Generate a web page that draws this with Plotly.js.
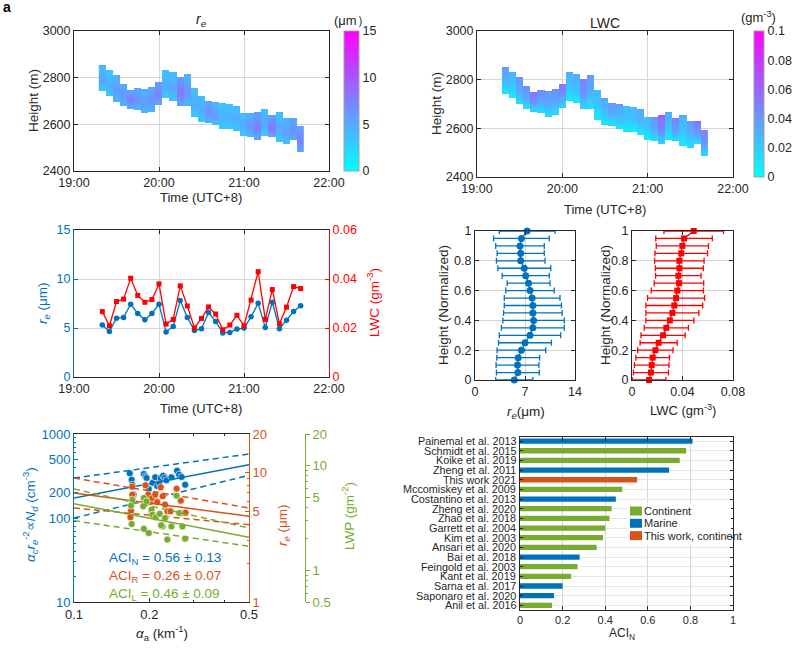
<!DOCTYPE html>
<html>
<head>
<meta charset="utf-8">
<script src="https://cdn.plot.ly/plotly-3.0.1.min.js"></script>
<style>
  body { margin: 0; background: #fff; }
  #plot { width: 799px; height: 655px; }
</style>
</head>
<body>
<div id="plot"></div>
<script>
// ---- data ----

// sampling times of the flight (UTC+8)
let sampleTimes = ['19:20','19:25','19:30','19:35','19:40','19:45','19:50','19:55',
  '20:00','20:05','20:10','20:15','20:20','20:25','20:30','20:35','20:40','20:45','20:50','20:55',
  '21:00','21:05','21:10','21:15','21:20','21:25','21:30','21:35','21:40'];

// cloud top / cloud base of each column (m)
let cloudTop  = [2850,2830,2810,2772,2749,2758,2752,2763,2782,2832,2821,2804,2818,2757,2721,
  2704,2695,2692,2689,2678,2649,2649,2651,2668,2642,2652,2629,2626,2592];
let cloudBase = [2744,2721,2699,2678,2668,2665,2646,2652,2685,2711,2704,2678,2678,2632,2615,
  2610,2596,2582,2582,2575,2555,2546,2535,2553,2546,2526,2520,2535,2482];

// column mean re (um) and LWC (g m-3)
let rePoint  = [5.3,4.65,6.0,6.07,7.43,6.48,5.84,6.48,7.43,4.6,5.16,7.8,6.07,4.75,4.92,6.58,
  5.67,4.5,4.55,4.89,4.99,6.14,7.53,5.06,7.63,4.92,5.8,6.68,7.26];
let lwcPoint = [0.0267,0.0209,0.0308,0.0318,0.0403,0.0333,0.0305,0.0316,0.038,0.0216,0.0235,
  0.0372,0.029,0.02,0.0239,0.0286,0.0257,0.0193,0.0212,0.0252,0.0209,0.0314,0.043,0.0235,
  0.0357,0.0217,0.0285,0.0369,0.0361];

// vertical profiles vs normalized height
let normHeight = [0,0.05,0.1,0.15,0.2,0.25,0.3,0.35,0.4,0.45,0.5,0.55,0.6,0.65,0.7,0.75,0.8,0.85,0.9,0.95,1];
let reProfile  = [5.5,6.0,5.95,6.05,6.5,7.0,7.7,8.1,8.2,8.1,8.1,8.0,7.7,7.5,7.1,6.9,6.4,6.4,6.3,6.5,7.3];
let reErr      = [2.6,3.0,3.0,3.0,3.4,3.7,4.3,4.4,4.3,4.1,4.0,3.9,3.4,3.0,3.3,3.7,3.4,3.3,3.4,3.9,3.9];
let lwcProfile = [0.0135,0.015,0.0156,0.0164,0.0185,0.0211,0.0246,0.0272,0.030,0.032,0.0335,
  0.0349,0.0359,0.0372,0.0367,0.0375,0.0375,0.039,0.0399,0.0412,0.0489];
let lwcErr     = [0.0133,0.0139,0.0137,0.0133,0.014,0.0147,0.0175,0.0175,0.019,0.021,0.0225,
  0.0226,0.0207,0.0196,0.018,0.019,0.0196,0.0208,0.0207,0.0224,0.0236];

// ACI scatter: aerosol extinction (km-1) against Nd, re and LWP
let alphaN = [0.167,0.170,0.171,0.173,0.190,0.193,0.195,0.199,0.206,0.211,0.215,0.219,0.222,
  0.227,0.231,0.234,0.245,0.258,0.263,0.269,0.278];
let ndVal  = [340,286,249,190,334,313,300,221,263,305,240,261,299,319,299,281,305,366,328,308,249];
let alphaR = [0.171,0.193,0.171,0.198,0.202,0.205,0.211,0.215,0.222,0.226,0.236,0.243,0.257,
  0.267,0.269,0.279,0.169,0.168,0.204,0.231];
let reVal  = [7.82,8.01,6.78,6.78,5.95,6.39,6.78,5.95,7.73,6.58,5.04,5.04,7.55,6.09,4.89,4.92,
  5.10,4.53,4.80,5.68];
let alphaL = [0.171,0.169,0.170,0.189,0.190,0.195,0.190,0.199,0.204,0.206,0.212,0.220,0.226,
  0.223,0.231,0.236,0.245,0.257,0.263,0.271,0.278];
let lwpVal = [4.73,4.15,2.77,4.09,4.91,4.56,2.50,2.27,3.80,3.40,3.21,3.47,2.63,2.70,3.17,1.97,
  2.63,5.16,3.53,2.63,2.01];

// fitted lines and confidence bounds at the ends of the x range
let fitX   = [0.1, 0.5];
let ndFit  = [173, 431], ndUp  = [299, 578], ndLow  = [100, 322];
let reFit  = [6.98, 4.61], reUp = [9.12, 5.35], reLow = [5.35, 3.97];
let lwpFit = [4.33, 2.07], lwpUp = [5.98, 2.54], lwpLow = [2.98, 1.70];

// ACI_N from the literature
let studies = ['Painemal et al. 2013','Schmidt et al. 2015','Koike et al. 2019','Zheng et al. 2011',
  'This work 2021','Mccomiskey et al. 2009','Costantino et al. 2013','Zheng et al. 2020',
  'Zhao et al. 2018','Garrett et al. 2004','Kim et al. 2003','Ansari et al. 2020','Bai et al. 2018',
  'Feingold et al. 2003','Kant et al. 2019','Sarna et al. 2017','Saponaro et al. 2020','Anil et al. 2016'];
let aciN = [0.81,0.78,0.75,0.70,0.55,0.48,0.45,0.43,0.42,0.40,0.39,0.36,0.28,0.27,0.24,0.20,0.16,0.15];
let regionType = ['Marine','Continent','Continent','Marine','This work, continent','Continent','Marine',
  'Continent','Continent','Continent','Continent','Continent','Marine','Continent','Continent',
  'Marine','Marine','Continent'];
let regionNames = ['Continent', 'Marine', 'This work, continent'];

// ---- helpers ----
const W = 799, H = 655;
const fx = p => p / W;
const fy = p => 1 - p / H;

const blue = '#0072BD', orange = '#D95319', green = '#77AC30', red = '#FF0000';
const axisGray = '#262626', gridGray = '#d6d6d6';
const font = 'Liberation Sans, Arial, Helvetica, sans-serif';

function baseAxis(extra) {
  return Object.assign({
    showline: true, linecolor: axisGray, linewidth: 1, mirror: 'ticks',
    ticks: 'inside', ticklen: 4, tickcolor: axisGray,
    showgrid: true, gridcolor: gridGray, zeroline: false, fixedrange: true,
    tickfont: {size: 12.5, color: axisGray}
  }, extra);
}

const timeStamps = sampleTimes.map(t => '2021-01-01 ' + t);
const timeAxis = {type: 'date', range: ['2021-01-01 19:00', '2021-01-01 22:00'],
  tickformat: '%H:%M', dtick: 3600000, tick0: '2021-01-01 19:00'};

// height bins for the curtain plots
let binHeights = [];
for (let h = 2480; h <= 2855; h += 5) binHeights.push(h);

function profileAt(prof, hn) {
  let i = Math.min(Math.floor(hn / 0.05), prof.length - 2);
  let t = (hn - normHeight[i]) / 0.05;
  return prof[i] * (1 - t) + prof[i + 1] * t;
}
const mean = a => a.reduce((s, v) => s + v, 0) / a.length;

// each column: mean profile shape scaled by that column's value
function cloudField(prof, colVals, norm) {
  return binHeights.map(h => cloudTop.map((top, c) => {
    let base = cloudBase[c];
    if (h < base || h > top) return null;
    return profileAt(prof, (h - base) / (top - base)) * colVals[c] / norm;
  }));
}

const coolScale = [[0, '#00FFFF'], [1, '#FF00FF']];

function colorbar(x, yTop, yBot, thick, vals) {
  return {x: fx(x), xanchor: 'left', xpad: 0, ypad: 0,
    y: fy((yTop + yBot) / 2), yanchor: 'middle', len: yBot - yTop, lenmode: 'pixels',
    thickness: thick, outlinewidth: 1, outlinecolor: '#a0a0a0', ticks: '',
    tickvals: vals, tickfont: {size: 12.5, color: axisGray}};
}

// ---- traces ----
let traces = [];

// a: re curtain
traces.push({type: 'heatmap', x: timeStamps, y: binHeights,
  z: cloudField(reProfile, rePoint, Math.max(...reProfile)),
  xaxis: 'x', yaxis: 'y', zmin: 0, zmax: 15, colorscale: coolScale, hoverongaps: false,
  colorbar: colorbar(344, 31, 171, 15, [0, 5, 10, 15])});

// b: LWC curtain
traces.push({type: 'heatmap', x: timeStamps, y: binHeights,
  z: cloudField(lwcProfile, lwcPoint, mean(lwcProfile)),
  xaxis: 'x2', yaxis: 'y2', zmin: 0, zmax: 0.1, colorscale: coolScale, hoverongaps: false,
  colorbar: colorbar(754, 31, 177, 10, [0, 0.02, 0.04, 0.06, 0.08, 0.1])});

// c: time series
traces.push({type: 'scatter', mode: 'lines+markers', x: timeStamps, y: rePoint,
  xaxis: 'x3', yaxis: 'y3', showlegend: false,
  line: {color: blue, width: 1.3}, marker: {color: blue, size: 5.5, symbol: 'circle'}});
traces.push({type: 'scatter', mode: 'lines+markers', x: timeStamps, y: lwcPoint,
  xaxis: 'x3', yaxis: 'y4', showlegend: false,
  line: {color: red, width: 1.3}, marker: {color: red, size: 5, symbol: 'square'}});

// d: profiles
traces.push({type: 'scatter', mode: 'lines+markers', x: reProfile, y: normHeight,
  xaxis: 'x4', yaxis: 'y5', showlegend: false, cliponaxis: false,
  line: {color: blue, width: 1.3}, marker: {color: blue, size: 7},
  error_x: {type: 'data', array: reErr, color: blue, thickness: 1.3, width: 3}});
traces.push({type: 'scatter', mode: 'lines+markers', x: lwcProfile, y: normHeight,
  xaxis: 'x5', yaxis: 'y6', showlegend: false, cliponaxis: false,
  line: {color: red, width: 1.3}, marker: {color: red, size: 6, symbol: 'square'},
  error_x: {type: 'data', array: lwcErr, color: red, thickness: 1.3, width: 3}});

// e: ACI scatter and fits
function fitLines(yAx, color, fit, up, low) {
  return [
    {type: 'scatter', mode: 'lines', x: fitX, y: up, xaxis: 'x6', yaxis: yAx, showlegend: false,
      line: {color: color, width: 1.5, dash: '6px,4px'}},
    {type: 'scatter', mode: 'lines', x: fitX, y: low, xaxis: 'x6', yaxis: yAx, showlegend: false,
      line: {color: color, width: 1.5, dash: '6px,4px'}},
    {type: 'scatter', mode: 'lines', x: fitX, y: fit, xaxis: 'x6', yaxis: yAx, showlegend: false,
      line: {color: color, width: 1.5}}
  ];
}
function dots(x, y, yAx, color) {
  return {type: 'scatter', mode: 'markers', x: x, y: y, xaxis: 'x6', yaxis: yAx, showlegend: false,
    marker: {color: color, size: 7, line: {color: 'white', width: 0.6}}};
}
traces.push(dots(alphaN, ndVal, 'y7', blue));
traces.push(dots(alphaR, reVal, 'y8', orange));
traces.push(dots(alphaL, lwpVal, 'y9', green));
traces.push(...fitLines('y7', blue, ndFit, ndUp, ndLow));
traces.push(...fitLines('y8', orange, reFit, reUp, reLow));
traces.push(...fitLines('y9', green, lwpFit, lwpUp, lwpLow));

// f: literature bars, one trace per region type
const regionColors = {'Continent': green, 'Marine': blue, 'This work, continent': orange};
regionNames.forEach(r => {
  let idx = studies.map((s, i) => i).filter(i => regionType[i] == r);
  traces.push({type: 'bar', orientation: 'h', name: r, showlegend: false,
    x: idx.map(i => aciN[i]), y: idx.map(i => studies[i]),
    xaxis: 'x7', yaxis: 'y10', width: 0.55, marker: {color: regionColors[r]}});
});

// ---- annotations (titles, axis labels) ----
function label(text, x, y, opts) {
  return Object.assign({text: text, x: fx(x), y: fy(y), xref: 'paper', yref: 'paper',
    showarrow: false, xanchor: 'center', yanchor: 'middle',
    font: {size: 13, color: axisGray, family: font}}, opts || {});
}
const re = '<i>r</i><sub><i>e</i></sub>';
let annotations = [
  label('<b>a</b>', 1, 7, {xanchor: 'left', font: {size: 14, color: '#000', family: font}}),
  label(re, 201, 20, {font: {size: 14, color: axisGray, family: font}}),
  label('(μm）', 352, 20),
  label('Height (m)', 33, 101, {textangle: -90, font: {size: 13.5, color: axisGray, family: font}}),
  label('Time (UTC+8)', 201, 197),

  label('LWC', 605, 23, {font: {size: 14, color: axisGray, family: font}}),
  label('(gm<sup>-3</sup>)', 758, 17),
  label('Height (m)', 437, 104, {textangle: -90, font: {size: 13.5, color: axisGray, family: font}}),
  label('Time (UTC+8)', 605, 209),

  label(re + ' (μm)', 43, 303, {textangle: -90, font: {size: 13.5, color: blue, family: font}}),
  label('LWC (gm<sup>-3</sup>)', 373, 303, {textangle: -90, font: {size: 13.5, color: red, family: font}}),
  label('Time (UTC+8)', 201, 408),

  label('Height (Normalized)', 443, 305, {textangle: -90, font: {size: 13.5, color: axisGray, family: font}}),
  label('Height (Normalized)', 605, 305, {textangle: -90, font: {size: 13.5, color: axisGray, family: font}}),
  label(re + '(μm)', 526, 412, {font: {size: 13.5, color: axisGray, family: font}}),
  label('LWC (gm<sup>-3</sup>)', 683, 410),

  label('<i>α</i><sub>c</sub>' + re + '<sup>-2</sup>∝<i>N</i><sub><i>d</i></sub> (cm<sup>-3</sup>)', 30, 515,
    {textangle: -90, font: {size: 13.5, color: blue, family: font}}),
  label(re + ' (μm)', 283, 525, {textangle: -90, font: {size: 13.5, color: orange, family: font}}),
  label('LWP (gm<sup>-2</sup>)', 348, 516, {textangle: -90, font: {size: 13.5, color: green, family: font}}),
  label('<i>α</i><sub>a</sub> (km<sup>-1</sup>)', 162, 633, {font: {size: 13.5, color: axisGray, family: font}}),
  label('ACI<sub>N</sub> = 0.56 ± 0.13', 107, 558, {xanchor: 'left', font: {size: 13.5, color: blue, family: font}}),
  label('ACI<sub>R</sub> = 0.26 ± 0.07', 107, 576, {xanchor: 'left', font: {size: 13.5, color: orange, family: font}}),
  label('ACI<sub>L</sub> = 0.46 ± 0.09', 107, 594, {xanchor: 'left', font: {size: 13.5, color: green, family: font}}),

  label('ACI<sub>N</sub>', 622, 634, {font: {size: 12, color: axisGray, family: font}})
];

// study names next to the bars (tick labels are too tightly packed for plotly's own)
studies.forEach(s => {
  annotations.push({text: s, xref: 'paper', x: fx(517), yref: 'y10', y: s,
    xanchor: 'right', yanchor: 'middle', showarrow: false, borderpad: 0,
    font: {size: 10.8, color: axisGray, family: font}});
});

// legend for panel f, drawn as key squares plus labels
let shapes = [{type: 'rect', xref: 'paper', yref: 'paper', layer: 'above',
  x0: fx(627), x1: fx(731), y0: fy(545), y1: fy(503), fillcolor: '#fff', line: {width: 0}}];
regionNames.forEach((r, k) => {
  let yc = 511 + k * 12.3;
  shapes.push({type: 'rect', xref: 'paper', yref: 'paper', layer: 'above',
    x0: fx(630), x1: fx(642), y0: fy(yc + 4.5), y1: fy(yc - 4.5),
    fillcolor: regionColors[r], line: {width: 0}});
  annotations.push(label(r, 643, yc, {xanchor: 'left', borderpad: 0,
    font: {size: 11, color: axisGray, family: font}}));
});

// ---- layout ----
const logMinorN = [20,30,40,50,60,70,80,90,300,400,600,700,800,900];
const logMinorR = [2,3,4,6,7,8,9];
const logMinorL = [0.6,0.7,0.8,0.9,2,3,4,6,7,8,9];

let layout = {
  width: W, height: H,
  margin: {l: 0, r: 0, t: 0, b: 0},
  paper_bgcolor: '#fff', plot_bgcolor: '#fff',
  font: {family: font, color: axisGray},
  barmode: 'overlay',
  showlegend: false,
  annotations: annotations,
  shapes: shapes,

  // a
  xaxis: baseAxis(Object.assign({domain: [fx(74), fx(329)], anchor: 'y'}, timeAxis)),
  yaxis: baseAxis({domain: [fy(171), fy(31)], anchor: 'x', range: [2400, 3000], dtick: 200}),
  // b
  xaxis2: baseAxis(Object.assign({domain: [fx(477), fx(733)], anchor: 'y2'}, timeAxis)),
  yaxis2: baseAxis({domain: [fy(177), fy(31)], anchor: 'x2', range: [2400, 3000], dtick: 200}),
  // c
  xaxis3: baseAxis(Object.assign({domain: [fx(74), fx(329)], anchor: 'y3'}, timeAxis)),
  yaxis3: baseAxis({domain: [fy(377), fy(230)], anchor: 'x3', range: [0, 15], dtick: 5,
    mirror: false, linecolor: blue, tickcolor: blue, tickfont: {size: 12.5, color: blue}}),
  yaxis4: baseAxis({overlaying: 'y3', side: 'right', anchor: 'x3', range: [0, 0.06], dtick: 0.02,
    mirror: false, showgrid: false, linecolor: red, tickcolor: red, tickfont: {size: 12.5, color: red}}),
  // d
  xaxis4: baseAxis({domain: [fx(475), fx(575)], anchor: 'y5', range: [0, 14], tickvals: [0, 7, 14]}),
  yaxis5: baseAxis({domain: [fy(380), fy(231)], anchor: 'x4', range: [0, 1], dtick: 0.2}),
  xaxis5: baseAxis({domain: [fx(632), fx(733)], anchor: 'y6', range: [0, 0.08], tickvals: [0, 0.04, 0.08]}),
  yaxis6: baseAxis({domain: [fy(380), fy(231)], anchor: 'x5', range: [0, 1], dtick: 0.2}),
  // e
  xaxis6: baseAxis({domain: [fx(74), fx(249)], anchor: 'y7', type: 'log', range: [-1, Math.log10(0.5)],
    tickvals: [0.1, 0.2, 0.5], ticktext: ['0.1', '0.2', '0.5'], showgrid: false,
    tickfont: {size: 13, color: axisGray},
    minor: {tickvals: [0.3, 0.4], ticks: 'inside', ticklen: 2, tickcolor: axisGray}}),
  yaxis7: baseAxis({domain: [fy(602), fy(434)], anchor: 'x6', type: 'log', range: [1, 3],
    tickvals: [10, 100, 200, 500, 1000], ticktext: ['10', '100', '200', '500', '1000'],
    showgrid: false, mirror: false, linecolor: blue, tickcolor: blue,
    tickfont: {size: 13, color: blue},
    minor: {tickvals: logMinorN, ticks: 'inside', ticklen: 2, tickcolor: blue}}),
  yaxis8: baseAxis({overlaying: 'y7', side: 'right', anchor: 'x6', type: 'log', range: [0, Math.log10(20)],
    tickvals: [1, 5, 10, 20], ticktext: ['1', '5', '10', '20'], showgrid: false, mirror: false,
    linecolor: orange, tickcolor: orange, tickfont: {size: 13, color: orange},
    minor: {tickvals: logMinorR, ticks: 'inside', ticklen: 2, tickcolor: orange}}),
  yaxis9: baseAxis({overlaying: 'y7', side: 'right', anchor: 'free', position: fx(305), type: 'log',
    range: [Math.log10(0.5), Math.log10(20)], tickvals: [0.5, 1, 5, 10, 20],
    ticktext: ['0.5', '1', '5', '10', '20'], showgrid: false, mirror: false, ticks: 'outside',
    linecolor: green, tickcolor: green, tickfont: {size: 13, color: green},
    minor: {tickvals: logMinorL, ticks: 'outside', ticklen: 2, tickcolor: green}}),
  // f
  xaxis7: baseAxis({domain: [fx(520), fx(733)], anchor: 'y10', range: [0, 1], dtick: 0.2,
    tickfont: {size: 11, color: axisGray}}),
  yaxis10: baseAxis({domain: [fy(610), fy(437)], anchor: 'x7', type: 'category',
    categoryorder: 'array', categoryarray: studies, tickmode: 'array', tickvals: studies,
    showticklabels: false, range: [17.48, -0.42], ticklen: 3, gridcolor: '#e6e6e6'})
};

Plotly.newPlot('plot', traces, layout, {staticPlot: true});
</script>
</body>
</html>
